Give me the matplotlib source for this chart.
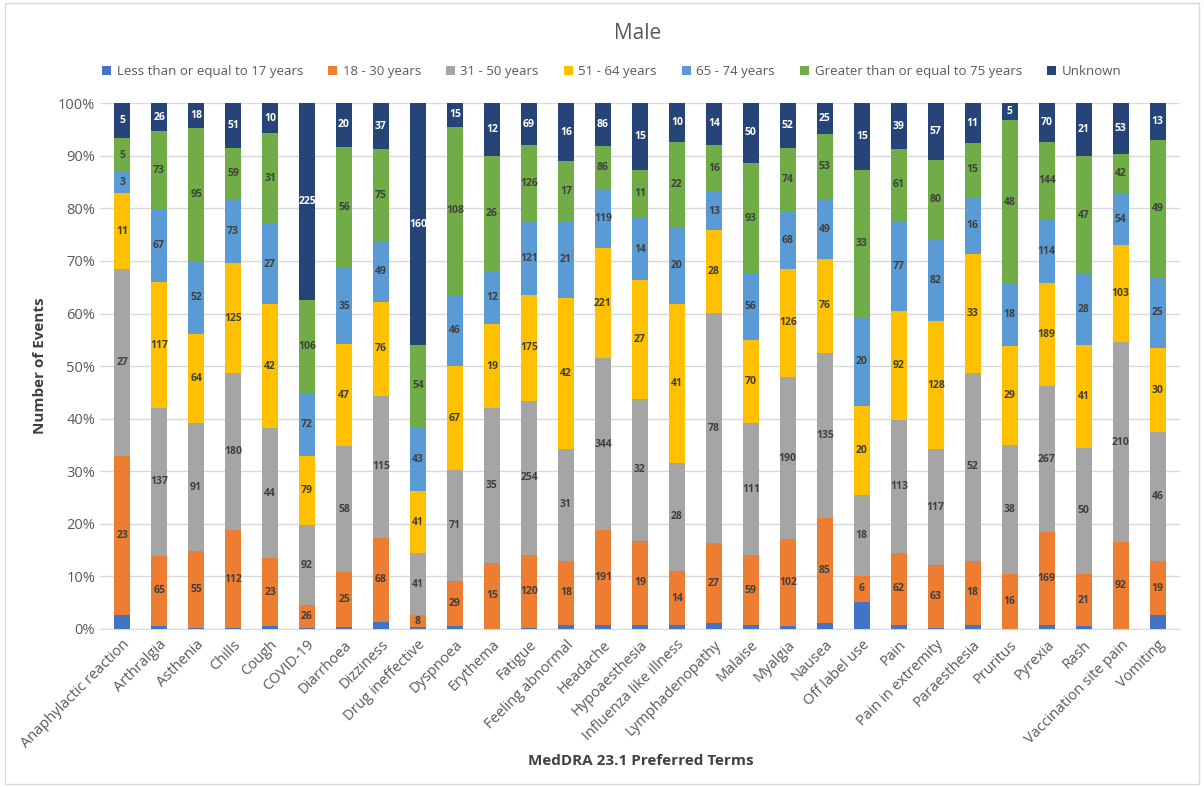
import numpy as np
import matplotlib.pyplot as plt
from matplotlib.patches import Rectangle

plt.rcParams['font.family'] = ['Open Sans', 'DejaVu Sans']

terms = ["Anaphylactic reaction", "Arthralgia", "Asthenia", "Chills", "Cough",
         "COVID-19", "Diarrhoea", "Dizziness", "Drug ineffective", "Dyspnoea",
         "Erythema", "Fatigue", "Feeling abnormal", "Headache", "Hypoaesthesia",
         "Influenza like illness", "Lymphadenopathy", "Malaise", "Myalgia", "Nausea",
         "Off label use", "Pain", "Pain in extremity", "Paraesthesia", "Pruritus",
         "Pyrexia", "Rash", "Vaccination site pain", "Vomiting"]

age_groups = ["Less than or equal to 17 years", "18 - 30 years", "31 - 50 years",
              "51 - 64 years", "65 - 74 years", "Greater than or equal to 75 years",
              "Unknown"]

# counts per age group, one value per term (under-17)
under_17 = [2, 3, 1, 1, 1, 1, 1, 6, 1, 2, 0, 2, 1, 8, 1, 1, 2, 3, 3, 5,
            6, 3, 1, 1, 0, 8, 1, 0, 5]
age_18_30 = [23, 65, 55, 112, 23, 26, 25, 68, 8, 29, 15, 120, 18, 191, 19, 14, 27, 59, 102, 85,
             6, 62, 63, 18, 16, 169, 21, 92, 19]
age_31_50 = [27, 137, 91, 180, 44, 92, 58, 115, 41, 71, 35, 254, 31, 344, 32, 28, 78, 111, 190, 135,
             18, 113, 117, 52, 38, 267, 50, 210, 46]
age_51_64 = [11, 117, 64, 125, 42, 79, 47, 76, 41, 67, 19, 175, 42, 221, 27, 41, 28, 70, 126, 76,
             20, 92, 128, 33, 29, 189, 41, 103, 30]
age_65_74 = [3, 67, 52, 73, 27, 72, 35, 49, 43, 46, 12, 121, 21, 119, 14, 20, 13, 56, 68, 49,
             20, 77, 82, 16, 18, 114, 28, 54, 25]
age_75_up = [5, 73, 95, 59, 31, 106, 56, 75, 54, 108, 26, 126, 17, 86, 11, 22, 16, 93, 74, 53,
             33, 61, 80, 15, 48, 144, 47, 42, 49]
unknown = [5, 26, 18, 51, 10, 225, 20, 37, 160, 15, 12, 69, 16, 86, 15, 10, 14, 50, 52, 25,
           15, 39, 57, 11, 5, 70, 21, 53, 13]

series = [under_17, age_18_30, age_31_50, age_51_64, age_65_74, age_75_up, unknown]
colors = ['#4472C4', '#ED7D31', '#A5A5A5', '#FFC000', '#5B9BD5', '#70AD47', '#264478']
text_colors = ['#404040'] * 6 + ['white']

counts = np.array(series, dtype=float)
shares = counts / counts.sum(axis=0) * 100

fig = plt.figure(figsize=(12.04, 7.87), dpi=100)
fig.patches.append(Rectangle((0.004, 0.004), 0.992, 0.992, transform=fig.transFigure,
                             fill=False, edgecolor='#D9D9D9', linewidth=1))
ax = fig.add_axes([0.083, 0.2008, 0.897, 0.668])

x = np.arange(len(terms))
bottom = np.zeros(len(terms))
for i, name in enumerate(age_groups):
    ax.bar(x, shares[i], 0.43, bottom=bottom, color=colors[i], label=name, zorder=3)
    if i > 0:
        for xi, b, h, v in zip(x, bottom, shares[i], series[i]):
            if v > 0:
                ax.text(xi, b + h / 2, str(v), ha='center', va='center', fontsize=7.5,
                        fontweight='bold', color=text_colors[i], zorder=4)
    bottom += shares[i]

ax.set_xlim(-0.6, len(terms) - 0.4)
ax.set_ylim(0, 100)
ax.set_yticks(np.arange(0, 101, 10))
ax.set_yticklabels([f"{v}%" for v in range(0, 101, 10)])
ax.set_xticks(x)
ax.set_xticklabels(terms, rotation=45, ha='right', rotation_mode='anchor')
ax.tick_params(axis='both', length=0, colors='#595959', labelsize=10.5)
ax.tick_params(axis='x', pad=6)
ax.grid(axis='y', color='#D9D9D9', linewidth=1, zorder=0)
for s in ['top', 'right', 'left']:
    ax.spines[s].set_visible(False)
ax.spines['bottom'].set_color('#D9D9D9')

ax.set_ylabel("Number of Events", fontsize=11, fontweight='bold', color='#404040', labelpad=8)
fig.text(0.532, 0.028, "MedDRA 23.1 Preferred Terms", ha='center', fontsize=11,
         fontweight='bold', color='#404040')
fig.text(0.53, 0.957, "Male", ha='center', va='center', fontsize=15, color='#595959')

fig.legend(loc='center', bbox_to_anchor=(0.508, 0.909), ncol=7, frameon=False,
           fontsize=9.5, handlelength=0.7, handleheight=0.7, handletextpad=0.4,
           columnspacing=1.9, labelcolor='#595959')

fig.savefig("out.png", dpi=100)
